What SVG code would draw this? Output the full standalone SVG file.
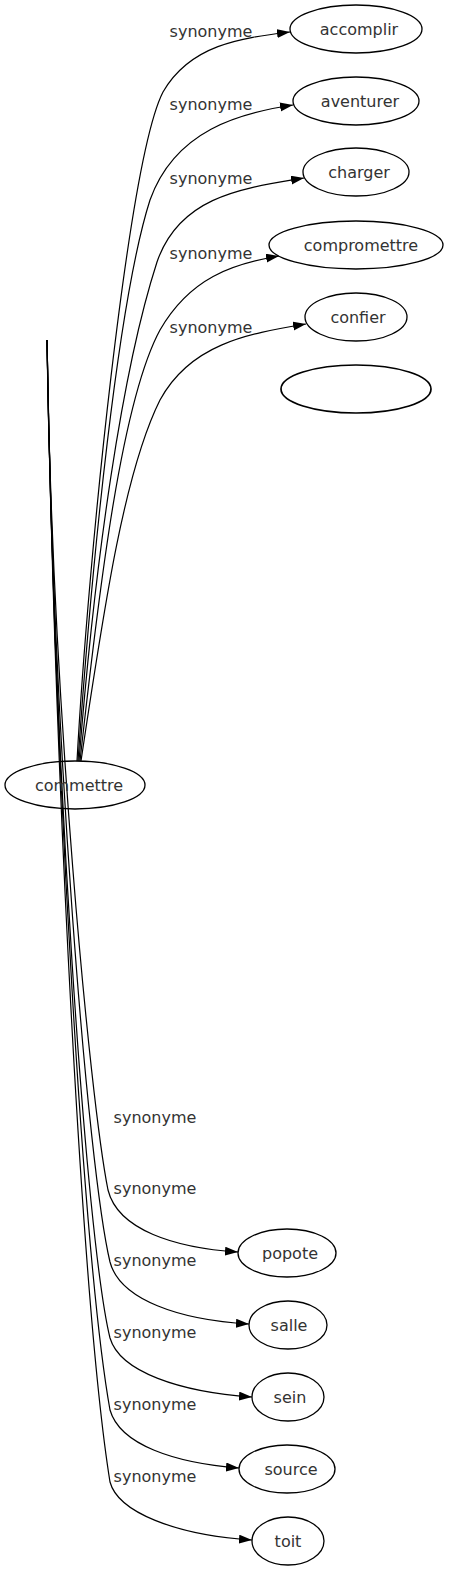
<svg xmlns="http://www.w3.org/2000/svg" width="449" height="1571" viewBox="0 0 449 1571">
<style>
.n ellipse{fill:none;stroke:#000;stroke-width:1.3}
text{font-family:"DejaVu Sans",sans-serif;font-size:16px;fill:#333;text-anchor:middle}
.e path{fill:none;stroke:#000;stroke-width:1.2}
.e path.a{marker-end:url(#arr)}
</style>
<defs>
<marker id="arr" markerWidth="13" markerHeight="10" refX="13" refY="4.5" orient="auto" markerUnits="userSpaceOnUse">
<path d="M0,0 L13,4.5 L0,9 z" fill="#000"/>
</marker>
</defs>
<rect width="449" height="1571" fill="#fff"/>
<g class="e" id="edges">
<path class="a" d="M77,761 C88,560 128,160 163,92 C190,45 240,38 290,32"/>
<path class="a" d="M78,761 C92,560 118,300 150,200 C175,130 240,113 293,105"/>
<path class="a" d="M79,761 C95,560 122,370 157,262 C180,195 245,188 304,178"/>
<path class="a" d="M80,761 C100,580 122,400 160,330 C190,278 232,264 279,256"/>
<path class="a" d="M81,761 C105,600 125,470 160,400 C190,345 245,334 306,324"/>
<path class="a" d="M47,340 C52,700 90,1100 108,1190 C118,1230 175,1248 238,1252"/>
<path class="a" d="M47,340 C53,740 88,1170 110,1262 C120,1300 180,1320 249,1324"/>
<path class="a" d="M47,340 C54,770 86,1240 110,1338 C120,1372 180,1392 252,1397"/>
<path class="a" d="M47,340 C55,790 85,1270 110,1410 C120,1445 175,1463 239,1468"/>
<path class="a" d="M47,340 C56,820 84,1320 110,1482 C118,1512 175,1535 252,1540"/>
<text x="211" y="37">synonyme</text>
<text x="211" y="110">synonyme</text>
<text x="211" y="184">synonyme</text>
<text x="211" y="259">synonyme</text>
<text x="211" y="333">synonyme</text>
<text x="155" y="1123">synonyme</text>
<text x="155" y="1194">synonyme</text>
<text x="155" y="1266">synonyme</text>
<text x="155" y="1338">synonyme</text>
<text x="155" y="1410">synonyme</text>
<text x="155" y="1482">synonyme</text>
</g>
<g class="n" id="commettre"><ellipse cx="75" cy="785" rx="70" ry="24"/><text x="79" y="791">commettre</text></g>
<g class="n" id="accomplir"><ellipse cx="356" cy="29" rx="66" ry="24"/><text x="359" y="35">accomplir</text></g>
<g class="n" id="aventurer"><ellipse cx="356" cy="101" rx="63" ry="24"/><text x="360" y="107">aventurer</text></g>
<g class="n" id="charger"><ellipse cx="356" cy="172" rx="53" ry="24"/><text x="359" y="178">charger</text></g>
<g class="n" id="compromettre"><ellipse cx="356" cy="245" rx="87" ry="24"/><text x="361" y="251">compromettre</text></g>
<g class="n" id="confier"><ellipse cx="356" cy="317" rx="51" ry="24"/><text x="358" y="323">confier</text></g>
<g class="n" id="empty"><ellipse cx="356" cy="389" rx="75" ry="24" style="stroke-width:1.7"/></g>
<g class="n" id="popote"><ellipse cx="287" cy="1253" rx="49" ry="24"/><text x="290" y="1259">popote</text></g>
<g class="n" id="salle"><ellipse cx="288" cy="1325" rx="39" ry="24"/><text x="289" y="1331">salle</text></g>
<g class="n" id="sein"><ellipse cx="288" cy="1397" rx="36" ry="24"/><text x="290" y="1403">sein</text></g>
<g class="n" id="source"><ellipse cx="287" cy="1469" rx="48" ry="24"/><text x="291" y="1475">source</text></g>
<g class="n" id="toit"><ellipse cx="288" cy="1541" rx="36" ry="24"/><text x="288" y="1547">toit</text></g>
</svg>
